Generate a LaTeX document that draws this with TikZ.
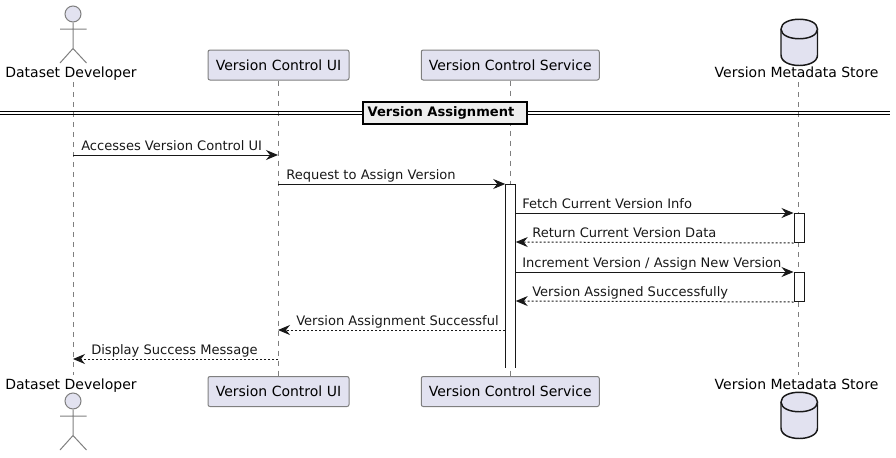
\documentclass[tikz,border=0pt]{standalone}
\usepackage{fontspec}
\setmainfont{DejaVu Sans}
\usetikzlibrary{arrows.meta}
\definecolor{partfill}{HTML}{E2E2F0}
\definecolor{partline}{HTML}{7F7F7F}
\definecolor{msgline}{HTML}{181818}
\definecolor{divfill}{HTML}{EEEEEE}

\begin{document}
\begin{tikzpicture}[x=0.75pt, y=-0.75pt,
  part/.style = {shape=rectangle, rounded corners=1.5pt, draw=partline, fill=partfill,
    line width=0.75pt, minimum height=22.5pt, inner sep=0pt, font=\fontsize{10.5}{12}\selectfont},
  partcap/.style = {anchor=base, inner sep=0pt, font=\fontsize{10.5}{12}\selectfont},
  msgtext/.style = {anchor=base west, inner sep=0pt, text=msgline, font=\fontsize{9.8}{12}\selectfont},
  lifeline/.style = {draw=partline, line width=0.75pt, dash pattern=on 3.75pt off 3.75pt},
  bar/.style = {draw=msgline, fill=white, line width=0.75pt},
  msg/.style = {draw=msgline, line width=0.75pt, -{Stealth[length=9pt, width=7.5pt, inset=3pt]}},
  reply/.style = {msg, dash pattern=on 1.5pt off 1.5pt},
  stick/.style = {draw=partline, line width=0.75pt},
  head/.style = {shape=circle, draw=partline, fill=partfill, line width=0.75pt,
    minimum size=12pt, inner sep=0pt},
  dbase/.style = {draw=msgline, fill=partfill, line width=1.1pt}]

  \useasboundingbox (0,0) rectangle (896,457);

  \node (uitop) [part, minimum width=105.75pt] at (278.5,65) {Version Control UI};
  \node (svctop) [part, minimum width=133.5pt] at (510.25,65) {Version Control Service};
  \node (uibot) [part, minimum width=105.75pt] at (278.5,391.5) {Version Control UI};
  \node (svcbot) [part, minimum width=133.5pt] at (510.25,391.5) {Version Control Service};

  \node (devtop) [partcap] at (71,77.5) {Dataset Developer};
  \node (devbot) [partcap] at (71,389) {Dataset Developer};
  \node (storetop) [partcap] at (796.5,77.5) {Version Metadata Store};
  \node (storebot) [partcap] at (796.5,389) {Version Metadata Store};

  \coordinate (devstart) at (73,82);
  \coordinate (devend) at (73,375);
  \coordinate (storestart) at (798.5,82);
  \coordinate (storeend) at (798.5,375);

  \draw[lifeline] (devstart) -- (devend);
  \draw[lifeline] (uitop) -- (uibot);
  \draw[lifeline] (svctop) -- (svcbot);
  \draw[lifeline] (storestart) -- (storeend);

  % actor, top and bottom
  \foreach \name/\y in {a/14, b/401} {
    \node (head\name) [head] at (73,\y) {};
    \draw[stick] (head\name.south) -- ++(0,26) coordinate (hip\name)
      (60,\y+15) -- (86.5,\y+15)
      (60,\y+49) -- (hip\name) -- (86.5,\y+49);
  }

  % database, top and bottom
  \foreach \name/\y in {a/19, b/392} {
    \draw[dbase] (781,\y+10) .. controls (781,\y-3) and (817.5,\y-3) .. (817.5,\y+10)
      -- (817.5,\y+36) .. controls (817.5,\y+50) and (781,\y+50) .. (781,\y+36) -- cycle;
    \draw[dbase] (781,\y+10) .. controls (781,\y+23) and (817.5,\y+23) .. (817.5,\y+10);
  }

  % divider
  \coordinate (divleft) at (0,111.7);
  \coordinate (divright) at (890,111.7);
  \coordinate (divleftb) at (0,114.5);
  \coordinate (divrightb) at (890,114.5);
  \draw[line width=0.9pt] (divleft) -- (divright);
  \draw[line width=0.9pt] (divleftb) -- (divrightb);
  \node (divbox) [draw, fill=divfill, line width=1.5pt, minimum width=123pt, minimum height=16.5pt,
    inner sep=0pt, font=\bfseries\fontsize{9.8}{12}\selectfont] at (445,112.7)
    {\raisebox{-0.75pt}{Version Assignment}\kern6pt};

  % activations
  \node (svcbar) [minimum width=7.5pt, minimum height=137.25pt, inner sep=0pt, anchor=north] at (510.5,184) {};
  \node (storebara) [bar, minimum width=7.5pt, minimum height=21.75pt, inner sep=0pt, anchor=north] at (799,213) {};
  \node (storebarb) [bar, minimum width=7.5pt, minimum height=21.75pt, inner sep=0pt, anchor=north] at (799,272) {};
  \draw[bar] (svcbar.south west) -- (svcbar.north west) -- (svcbar.north east) -- (svcbar.south east);

  \foreach \n/\x in {dev/73, ui/278, svc/510, store/798.5}
    \foreach \y in {155, 184, 213, 242, 272, 301, 330, 359}
      \coordinate (\n\y) at (\x,\y);

  \draw[msg] (dev155) -- (ui155);
  \draw[msg] (ui184) -- (svcbar.north west);
  \draw[msg] (svcbar.east |- svc213) -- (storebara.north west);
  \draw[reply] (storebara.south west) -- (svcbar.east |- svc242);
  \draw[msg] (svcbar.east |- svc272) -- (storebarb.north west);
  \draw[reply] (storebarb.south west) -- (svcbar.east |- svc301);
  \draw[reply] (svcbar.west |- svc330) -- (ui330);
  \draw[reply] (ui359) -- (dev359);

  \node (lblaccess) [msgtext] at (81,150.5) {Accesses Version Control UI};
  \node (lblrequest) [msgtext] at (286,179.7) {Request to Assign Version};
  \node (lblfetch) [msgtext] at (522,208.7) {Fetch Current Version Info};
  \node (lblreturn) [msgtext] at (532,237.7) {Return Current Version Data};
  \node (lblincr) [msgtext] at (522,267.7) {Increment Version / Assign New Version};
  \node (lblassigned) [msgtext] at (532,296.7) {Version Assigned Successfully};
  \node (lblsuccess) [msgtext] at (296,325.5) {Version Assignment Successful};
  \node (lbldisplay) [msgtext] at (91,354.5) {Display Success Message};
\end{tikzpicture}
\end{document}
